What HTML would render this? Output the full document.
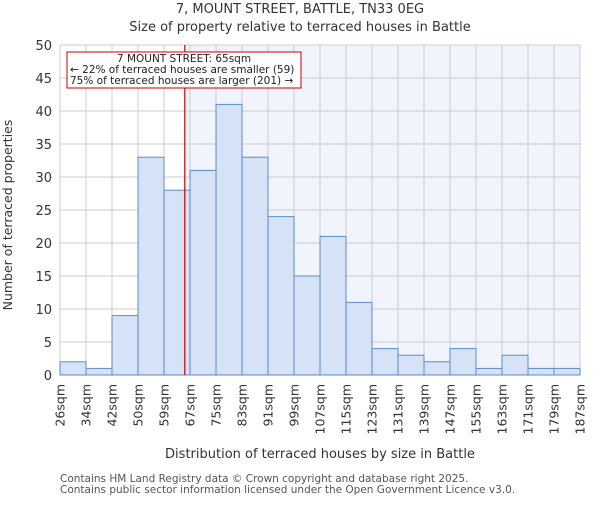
<!DOCTYPE html>
<html><head><meta charset="utf-8"><style>
body{margin:0;background:#fff;font-family:"Liberation Sans","DejaVu Sans",sans-serif}
</style></head><body>
<svg id="chart" width="600" height="500" xmlns="http://www.w3.org/2000/svg" font-family="DejaVu Sans, Liberation Sans, sans-serif">
<text x="300" y="13" text-anchor="middle" font-size="13" fill="#333">7, MOUNT STREET, BATTLE, TN33 0EG</text>
<text x="300" y="31" text-anchor="middle" font-size="13" fill="#333">Size of property relative to terraced houses in Battle</text>
<g id="plot"></g>
<text x="320" y="458" text-anchor="middle" font-size="13" fill="#333">Distribution of terraced houses by size in Battle</text>
<text transform="translate(12,215) rotate(-90)" text-anchor="middle" font-size="12.5" fill="#333">Number of terraced properties</text>
<text x="60" y="482" font-size="10.5" fill="#555">Contains HM Land Registry data © Crown copyright and database right 2025.</text>
<text x="60" y="493" font-size="10.5" fill="#555">Contains public sector information licensed under the Open Government Licence v3.0.</text>
</svg>
<script>
const binLabels = ["26sqm","34sqm","42sqm","50sqm","59sqm","67sqm","75sqm","83sqm","91sqm","99sqm","107sqm","115sqm","123sqm","131sqm","139sqm","147sqm","155sqm","163sqm","171sqm","179sqm","187sqm"];
const binEdges = [26,34,42,50,59,67,75,83,91,99,107,115,123,131,139,147,155,163,171,179,187];
const counts = [2,1,9,33,28,31,41,33,24,15,21,11,4,3,2,4,1,3,1,1];
const yTicks = [0,5,10,15,20,25,30,35,40,45,50];
const propertySize = 65;

const NS = "http://www.w3.org/2000/svg";
const L=60,R=580,T=45,B=375;
const bw=(R-L)/counts.length;
function xIdx(i){return L+i*bw;}
function xVal(v){
  for(let i=0;i<binEdges.length-1;i++){
    if(v>=binEdges[i]&&v<=binEdges[i+1]) return xIdx(i)+bw*(v-binEdges[i])/(binEdges[i+1]-binEdges[i]);
  }
  return R;
}
function y(v){return B-(v/50)*(B-T);}
const g=document.getElementById('plot');
function mk(tag,attrs){const e=document.createElementNS(NS,tag);for(const k in attrs)e.setAttribute(k,attrs[k]);g.appendChild(e);return e;}

const mx=xVal(propertySize)+1.3;
let e=mk('rect',{x:mx,y:T,width:R-mx,height:B-T,fill:'#f1f4fd'});



yTicks.forEach(t=>{
  let l=mk('line',{x1:L,x2:R,y1:y(t),y2:y(t),stroke:'#ccc','stroke-width':1});
  
  
  let tx=mk('text',{x:L-8,y:y(t)+5,'text-anchor':'end','font-size':13,fill:'#333'});
  tx.textContent=t;
  
  
});
binLabels.forEach((lab,i)=>{
  let l=mk('line',{x1:xIdx(i),x2:xIdx(i),y1:T,y2:B,stroke:'#ccc','stroke-width':1});
  
  
  let tx=mk('text',{transform:`translate(${xIdx(i)+4.5},${B+9}) rotate(-90)`,'text-anchor':'end','font-size':12.5,fill:'#333'});
  tx.textContent=lab;
  
  
});
counts.forEach((c,i)=>{
  let r=mk('rect',{x:xIdx(i),y:y(c),width:bw,height:B-y(c),fill:'#d6e2f5',stroke:'#5b8bd0','stroke-width':1});
  
  
});
e=mk('line',{x1:mx,x2:mx,y1:T,y2:B,stroke:'#cc0000','stroke-width':1.2});



e=mk('rect',{x:67,y:52,width:234,height:36,fill:'#fff',stroke:'#cc0000','stroke-width':1});


const ann=["7 MOUNT STREET: 65sqm","← 22% of terraced houses are smaller (59)","75% of terraced houses are larger (201) →"];
ann.forEach((s,i)=>{
  let t=mk('text',{x:i==0?184:70,y:62+i*11,'text-anchor':i==0?'middle':'start','font-size':10.5,fill:'#222'});
  t.textContent=s;
  
  
});
</script>
</body></html>
